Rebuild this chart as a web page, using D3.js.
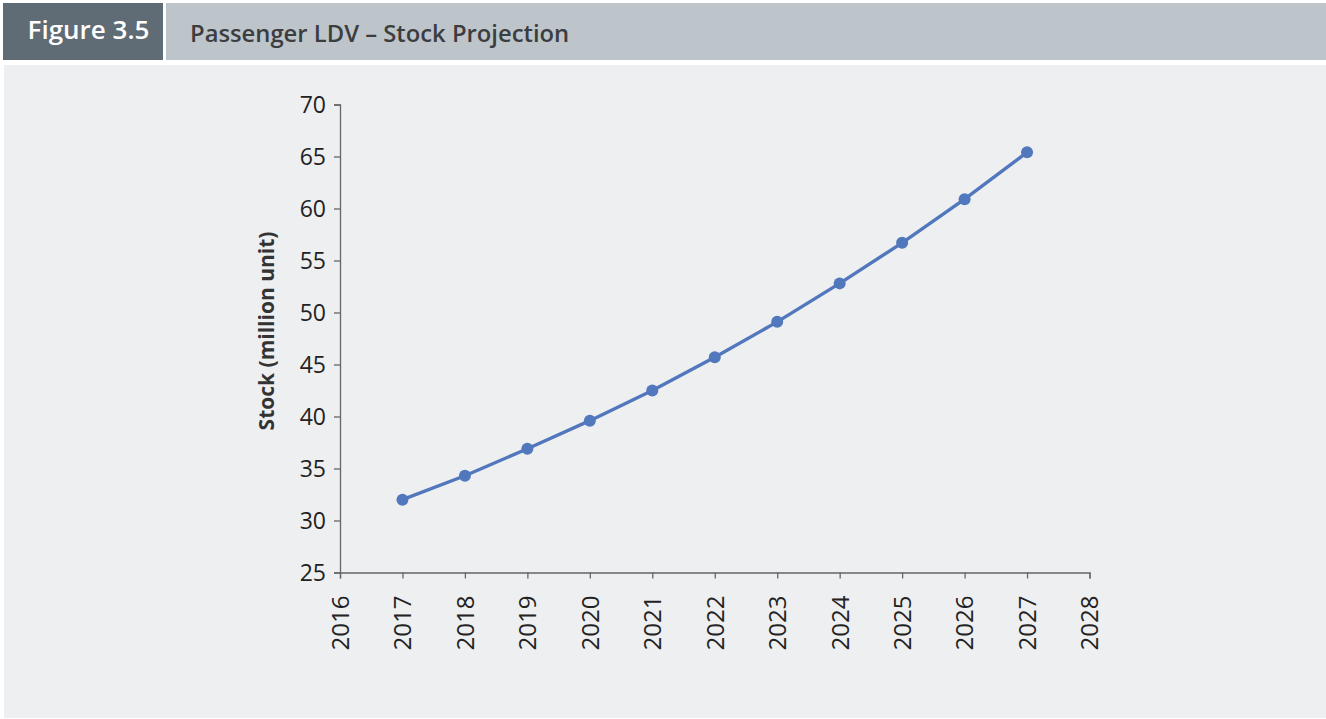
<!DOCTYPE html>
<html>
<head>
<meta charset="utf-8">
<script src="https://cdn.jsdelivr.net/npm/d3@7"></script>
<style>
  html, body { margin: 0; padding: 0; background: #ffffff; }
  svg { display: block; }
</style>
</head>
<body>
<svg id="chart" width="1326" height="719"></svg>
<script>
const years = [2017, 2018, 2019, 2020, 2021, 2022, 2023, 2024, 2025, 2026, 2027];
const stock = [32.0, 34.3, 36.9, 39.6, 42.5, 45.7, 49.1, 52.8, 56.7, 60.9, 65.4];
const xTicks = [2016, 2017, 2018, 2019, 2020, 2021, 2022, 2023, 2024, 2025, 2026, 2027, 2028];
const yTicks = [25, 30, 35, 40, 45, 50, 55, 60, 65, 70];
const figureLabel = "Figure 3.5";
const titleText = "Passenger LDV – Stock Projection";
const yTitle = "Stock (million unit)";

const svg = d3.select("#chart");
const font = "'Open Sans', 'Noto Sans', sans-serif";

// Header
svg.append("rect").attr("x", 3).attr("y", 3).attr("width", 160).attr("height", 57).attr("fill", "#5f6b75");
svg.append("rect").attr("x", 166).attr("y", 3).attr("width", 1160).attr("height", 57).attr("fill", "#bdc5cb");
svg.append("text").attr("x", 88.5).attr("y", 39).attr("text-anchor", "middle")
  .attr("font-family", font).attr("font-weight", 600).attr("font-size", 26).attr("fill", "#ffffff")
  .text(figureLabel);
svg.append("text").attr("x", 190).attr("y", 42)
  .attr("font-family", font).attr("font-weight", 600).attr("font-size", 23.8).attr("fill", "#3b3d3f")
  .text(titleText);

// Panel
svg.append("rect").attr("x", 4).attr("y", 65).attr("width", 1322).attr("height", 653).attr("fill", "#eeeff1");

const x = d3.scaleLinear().domain([2016, 2028]).range([340, 1089.5]);
const y = d3.scaleLinear().domain([25, 70]).range([572.5, 104.5]);

const axisColor = "#666";

const gx = svg.append("g").attr("transform", `translate(0,${y(25)})`)
  .call(d3.axisBottom(x).tickValues(xTicks).tickFormat(d3.format("d")).tickSizeOuter(0).tickSize(6));
gx.select(".domain").attr("stroke", axisColor).attr("stroke-width", 1.3);
gx.selectAll(".tick line").attr("stroke", axisColor).attr("stroke-width", 1.3);
gx.selectAll(".tick text")
  .attr("font-family", font).attr("font-size", 24).attr("fill", "#222")
  .attr("transform", "rotate(-90)")
  .attr("text-anchor", "end")
  .attr("x", -23).attr("y", 0).attr("dy", "0.35em");

const gy = svg.append("g").attr("transform", `translate(${x(2016)},0)`)
  .call(d3.axisLeft(y).tickValues(yTicks).tickSizeOuter(0).tickSize(6));
gy.select(".domain").attr("stroke", axisColor).attr("stroke-width", 1.3);
gy.selectAll(".tick line").attr("stroke", axisColor).attr("stroke-width", 1.3);
gy.selectAll(".tick text")
  .attr("font-family", font).attr("font-size", 23).attr("fill", "#222")
  .attr("x", -14).attr("dy", "0.35em");

svg.append("text")
  .attr("transform", `translate(274,331) rotate(-90)`)
  .attr("text-anchor", "middle")
  .attr("font-family", font).attr("font-weight", 700).attr("font-size", 21).attr("fill", "#333")
  .text(yTitle);

const data = years.map((yr, i) => ({ yr, v: stock[i] }));
const line = d3.line().x(d => x(d.yr)).y(d => y(d.v));
svg.append("path").datum(data).attr("d", line)
  .attr("fill", "none").attr("stroke", "#5177bd").attr("stroke-width", 3.4).attr("stroke-linejoin", "round");
svg.selectAll("circle.pt").data(data).enter().append("circle")
  .attr("class", "pt").attr("cx", d => x(d.yr)).attr("cy", d => y(d.v)).attr("r", 6)
  .attr("fill", "#5177bd");
</script>
</body>
</html>
